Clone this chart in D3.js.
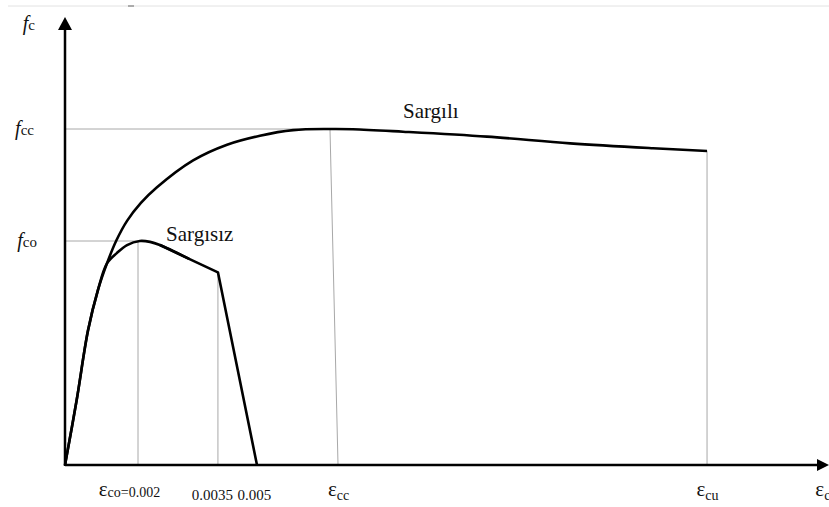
<!DOCTYPE html>
<html>
<head>
<meta charset="utf-8">
<script src="https://cdn.jsdelivr.net/npm/d3@7"></script>
<style>
body { margin: 0; background: #fff; }
svg { display: block; font-family: "Liberation Serif", "Times New Roman", serif; }
</style>
</head>
<body>
<div id="chart"></div>
<script>
// schematic strain units (0.002 -> 2.0) and stress in units of fco
var confinedStrain = [0, 0.32, 0.63, 0.90, 1.15, 1.40, 1.70, 2.08, 2.52, 3.51, 4.44, 5.34, 6.25, 7.26, 7.89, 9.26, 11.56, 13.84, 16.11, 17.59];
var confinedStress = [0, 0.29, 0.60, 0.78, 0.90, 1.00, 1.09, 1.17, 1.24, 1.36, 1.43, 1.47, 1.495, 1.50, 1.499, 1.488, 1.466, 1.436, 1.414, 1.402];

var unconfinedStrain = [0, 0.32, 0.63, 0.90, 1.15, 1.42, 1.70, 2.05, 2.33, 2.60, 3.40, 4.19, 5.26];
var unconfinedStress = [0, 0.29, 0.60, 0.78, 0.90, 0.946, 0.982, 1.00, 0.996, 0.982, 0.92, 0.86, 0];

// key points
var fco = 1.0, fcc = 1.5;
var eco = 2.0, e35 = 4.19, ecc = 7.26, eccAxis = 7.48, ecu = 17.59, fcu = 1.402, f35 = 0.86;

var xTickValues = [2.0, 4.19, 5.26, 7.48, 17.59, 20.75];
var xTickLabels = ["εco=0.002", "0.0035", "0.005", "εcc", "εcu", "εc"];
var yTickValues = [1.0, 1.5];
var yTickLabels = ["co", "cc"];

var svgWidth = 829;
var svgHeight = 507;

var svg = d3.select("#chart")
    .append("svg")
    .attr("width", svgWidth)
    .attr("height", svgHeight);

var x = d3.scaleLinear().domain([0, 21]).range([65, 831.5]);
var y = d3.scaleLinear().domain([0, 2]).range([465, 17]);

// faint page rule at the top
svg.append("line")
    .attr("x1", 8).attr("x2", svgWidth).attr("y1", 6).attr("y2", 6)
    .attr("stroke", "#e2e2e2").attr("stroke-width", 1);
svg.append("line")
    .attr("x1", 128).attr("x2", 134).attr("y1", 6).attr("y2", 6)
    .attr("stroke", "#666").attr("stroke-width", 1);

// thin guide lines
var guides = [
    [[0, fcc], [ecc, fcc]],
    [[0, fco], [eco, fco]],
    [[eco, fco], [eco, 0]],
    [[e35, f35], [e35, 0]],
    [[ecc, fcc], [eccAxis, 0]],
    [[ecu, fcu], [ecu, 0]]
];
svg.append("g").selectAll("line")
    .data(guides)
    .enter()
    .append("line")
    .attr("x1", d => x(d[0][0]))
    .attr("y1", d => y(d[0][1]))
    .attr("x2", d => x(d[1][0]))
    .attr("y2", d => y(d[1][1]))
    .attr("stroke", "#a8a8a8")
    .attr("stroke-width", 1);

// curves
var confined = confinedStrain.map((e, i) => [e, confinedStress[i]]);
var unconfined = unconfinedStrain.map((e, i) => [e, unconfinedStress[i]]);

var smooth = d3.line().x(d => x(d[0])).y(d => y(d[1])).curve(d3.curveCatmullRom.alpha(0.5));
var straight = d3.line().x(d => x(d[0])).y(d => y(d[1]));

svg.append("path")
    .attr("d", smooth(confined))
    .attr("fill", "none").attr("stroke", "#000").attr("stroke-width", 2.6);

svg.append("path")
    .attr("d", smooth(unconfined.slice(0, unconfined.length - 2)))
    .attr("fill", "none").attr("stroke", "#000").attr("stroke-width", 2.6);

svg.append("path")
    .attr("d", straight(unconfined.slice(unconfined.length - 4)))
    .attr("fill", "none").attr("stroke", "#000").attr("stroke-width", 2.6)
    .attr("stroke-linejoin", "round");

// axes with arrows
var x0 = x(0), y0 = y(0);
var xEnd = svgWidth, yEnd = 17;
svg.append("line")
    .attr("x1", x0).attr("y1", y0).attr("x2", xEnd - 10).attr("y2", y0)
    .attr("stroke", "#000").attr("stroke-width", 2.5);
svg.append("line")
    .attr("x1", x0).attr("y1", y0 + 1).attr("x2", x0).attr("y2", yEnd + 10)
    .attr("stroke", "#000").attr("stroke-width", 2.5);
svg.append("path")
    .attr("d", `M${xEnd},${y0} L${xEnd - 12},${y0 - 6} L${xEnd - 12},${y0 + 6} Z`)
    .attr("fill", "#000");
svg.append("path")
    .attr("d", `M${x0},${yEnd} L${x0 - 7},${yEnd + 13} L${x0 + 7},${yEnd + 13} Z`)
    .attr("fill", "#000");

// x labels
var nudge = {"εco=0.002": -9, "0.0035": -6, "0.005": -3};
var xAxis = svg.append("g")
    .attr("transform", `translate(0, ${y0})`)
    .call(d3.axisBottom(x).tickValues(xTickValues).tickSize(0).tickFormat((d, i) => xTickLabels[i]));
xAxis.select(".domain").remove();
xAxis.attr("font-family", null).attr("font-size", null);
xAxis.selectAll(".tick text")
    .each(function(d, i) {
        var label = xTickLabels[i];
        var t = d3.select(this).text(null)
            .attr("dy", null)
            .attr("fill", "#111")
            .attr("dx", nudge[label] || 0);
        if (label[0] === "ε") {
            t.attr("y", 31);
            t.append("tspan").attr("font-size", 21).text("ε");
            t.append("tspan").attr("font-size", 14)
                .attr("dy", label === "εco=0.002" ? 1 : 4)
                .text(label.slice(1));
        } else {
            t.attr("y", 35).attr("font-size", 15).text(label);
        }
    });

// y labels
var yAxis = svg.append("g")
    .attr("transform", `translate(${x0}, 0)`)
    .call(d3.axisLeft(y).tickValues(yTickValues).tickSize(0).tickPadding(28).tickFormat((d, i) => yTickLabels[i]));
yAxis.select(".domain").remove();
yAxis.attr("font-family", null).attr("font-size", null);
yAxis.selectAll(".tick text")
    .each(function(d, i) {
        var t = d3.select(this).text(null).attr("dy", null).attr("y", 5).attr("fill", "#111")
            .attr("dx", yTickLabels[i] === "cc" ? -3 : 0);
        t.append("tspan").attr("font-size", 20).attr("font-style", "italic").text("f");
        t.append("tspan").attr("font-size", 15).text(yTickLabels[i]);
    });

// y axis title
var yTitle = svg.append("text")
    .attr("x", 35).attr("y", 30)
    .attr("text-anchor", "end")
    .attr("fill", "#111");
yTitle.append("tspan").attr("font-size", 20).attr("font-style", "italic").text("f");
yTitle.append("tspan").attr("font-size", 15).text("c");

// curve names
svg.append("text")
    .attr("x", x(9.26)).attr("y", y(1.55))
    .attr("font-size", 21).attr("fill", "#111")
    .text("Sargılı");

svg.append("text")
    .attr("x", x(2.77)).attr("y", y(1.0))
    .attr("font-size", 21).attr("fill", "#111")
    .text("Sargısız");
</script>
</body>
</html>
